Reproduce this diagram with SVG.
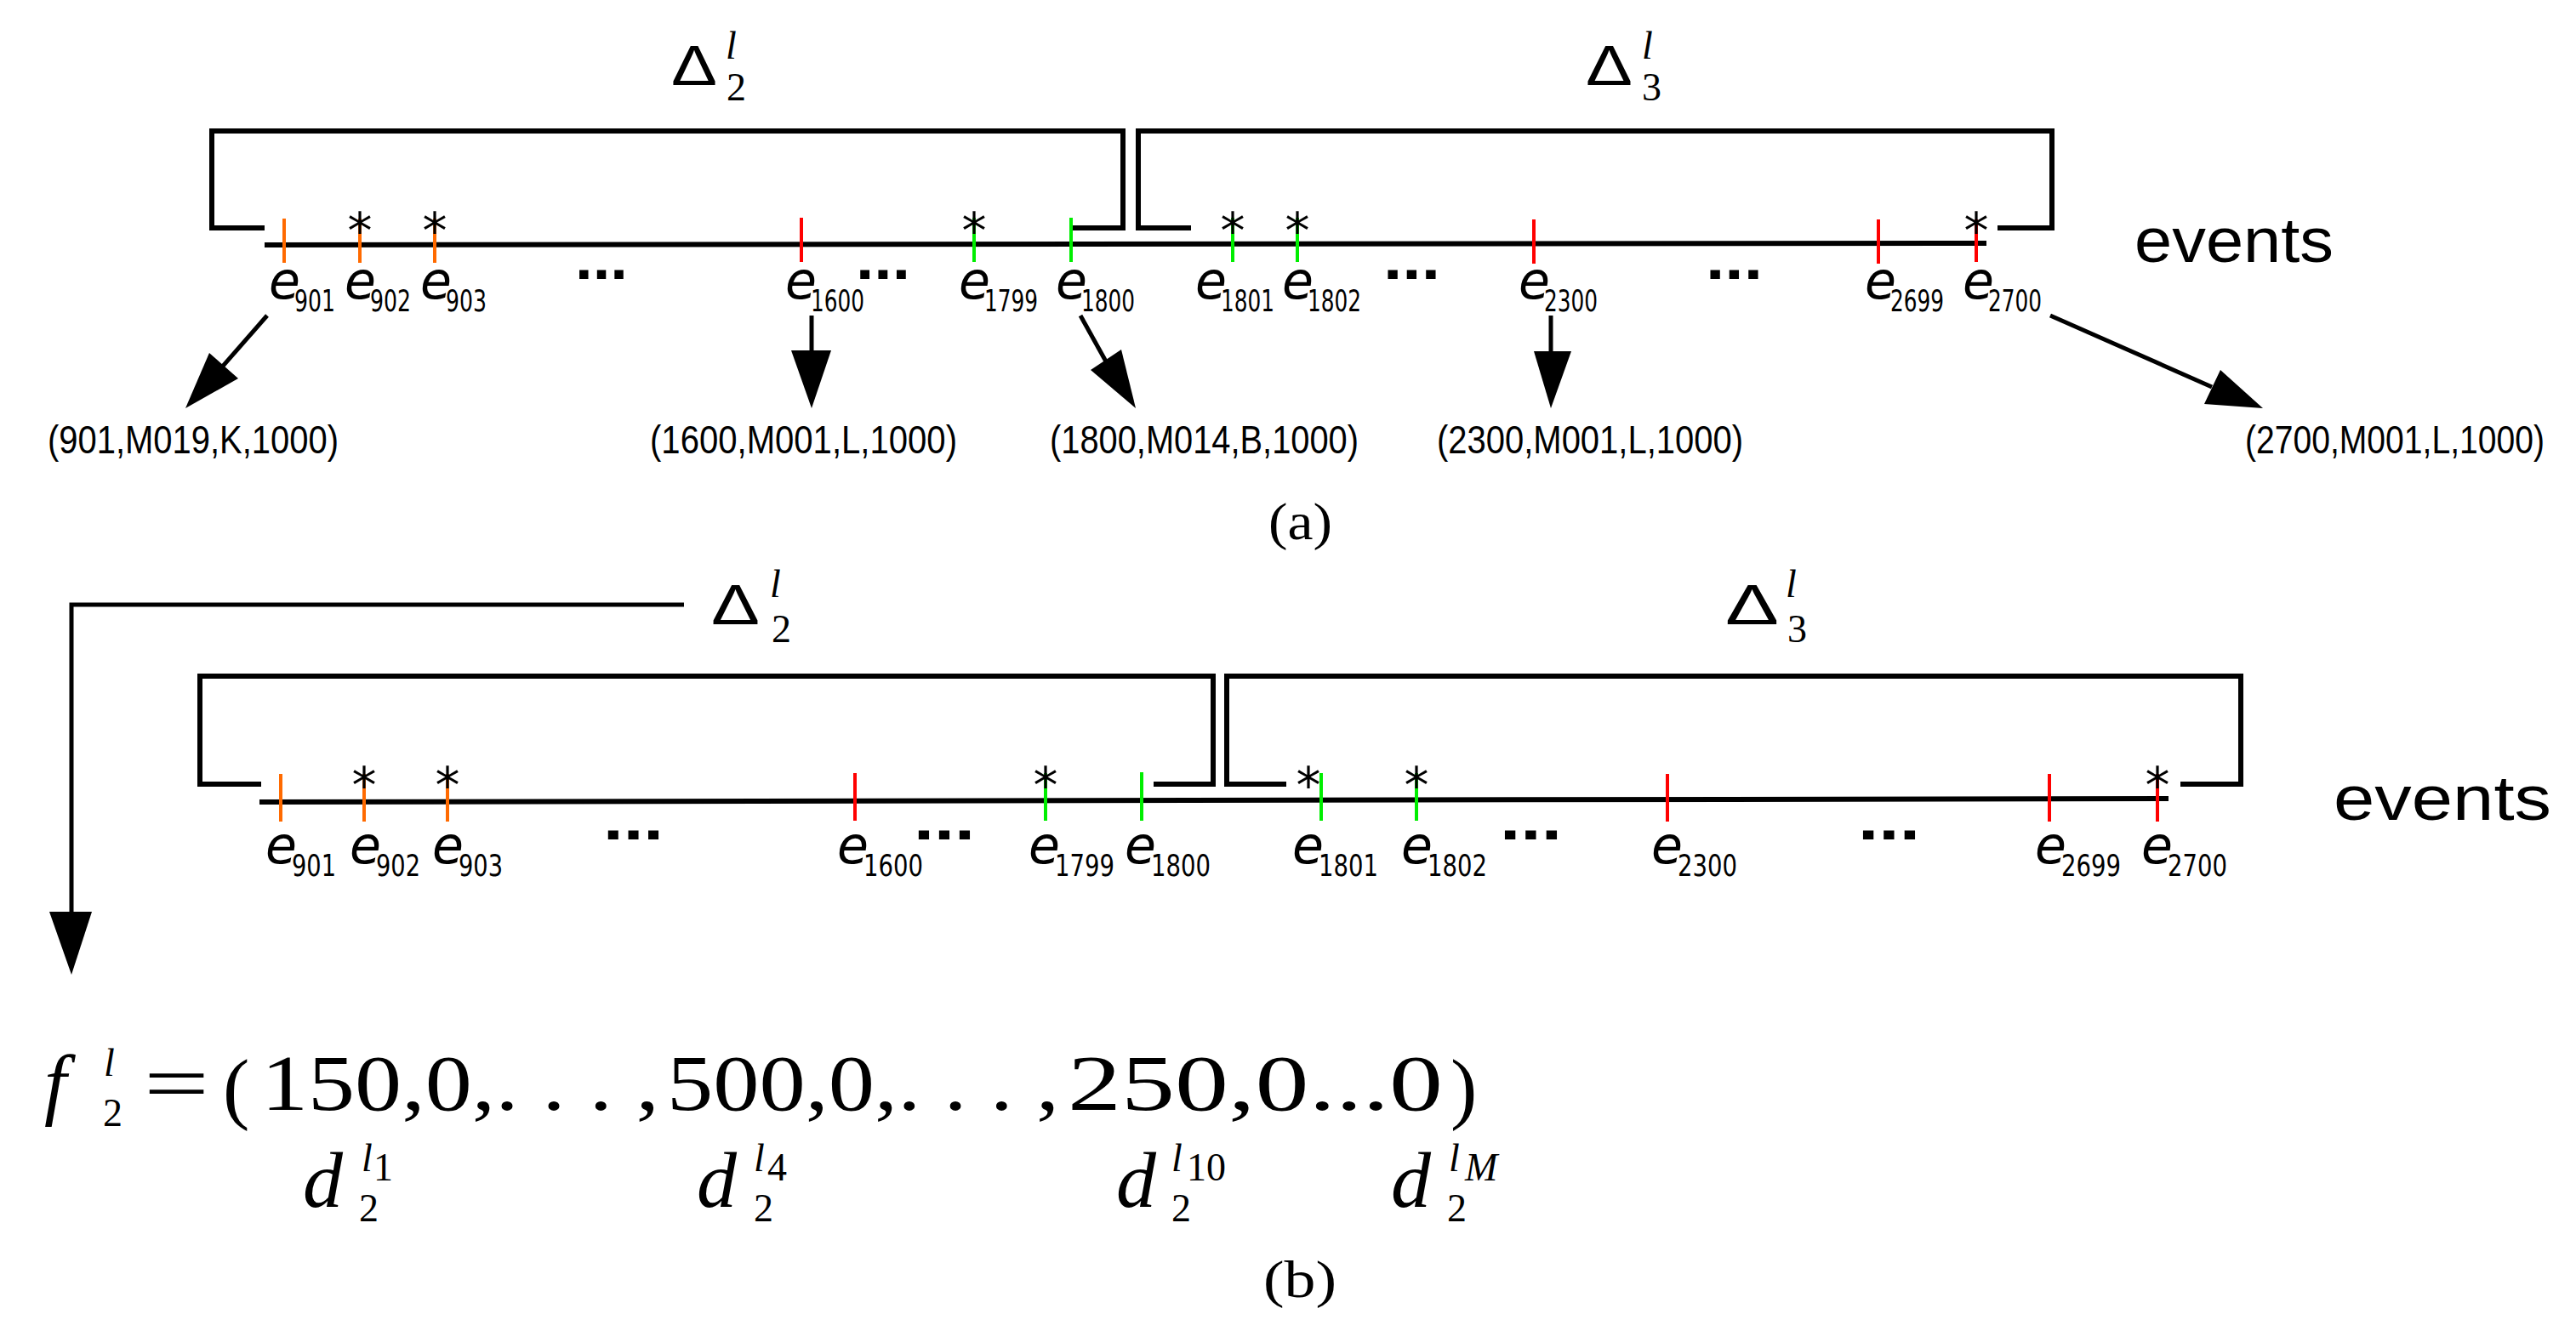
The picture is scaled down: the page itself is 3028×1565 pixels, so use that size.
<svg xmlns="http://www.w3.org/2000/svg" width="3028" height="1565" viewBox="0 0 3028 1565">
<style>
.br{fill:none;stroke:#000;stroke-width:6}
.ln{stroke:#000;stroke-width:6}
.o{stroke:#ff6a00;stroke-width:4}
.r{stroke:#ff0000;stroke-width:4}
.g{stroke:#00ee00;stroke-width:4}
.ar{stroke:#000;stroke-width:5;fill:none}
.st{font-family:"DejaVu Sans",sans-serif;font-size:58px;text-anchor:middle}
.e{font-family:"DejaVu Sans",sans-serif;font-style:italic;font-size:60px}
.s{font-family:"DejaVu Sans",sans-serif;font-size:36px}
.el{font-family:"Liberation Sans",sans-serif;font-weight:bold;font-size:70px}
.tu{font-family:"Liberation Sans",sans-serif;font-size:46px}
.ev{font-family:"Liberation Sans",sans-serif;font-size:74px}
.dl{font-family:"Liberation Sans",sans-serif;font-size:66px}
.sm{font-family:"Liberation Serif",serif;font-size:46px}
.si{font-family:"Liberation Serif",serif;font-style:italic;font-size:46px}
.fm{font-family:"Liberation Serif",serif;font-size:94px}
.fi{font-family:"Liberation Serif",serif;font-style:italic}
.cap{font-family:"Liberation Serif",serif;font-size:62px}
</style>
<!-- Panel a -->
<g id="a-brackets">
<polyline class="br" points="311,268 249,268 249,154 1320,154 1320,268 1260,268"/>
<polyline class="br" points="1400,268 1338,268 1338,154 2412,154 2412,268 2348,268"/>
<line class="ln" x1="311" y1="288" x2="2335" y2="286"/>
</g>
<g id="a-ticks">
<line class="o" x1="334" y1="257" x2="334" y2="309"/>
<line class="o" x1="423" y1="257" x2="423" y2="309"/>
<line class="o" x1="511" y1="257" x2="511" y2="309"/>
<line class="r" x1="942" y1="256" x2="942" y2="308"/>
<line class="g" x1="1145" y1="256" x2="1145" y2="308"/>
<line class="g" x1="1259" y1="256" x2="1259" y2="308"/>
<line class="g" x1="1449" y1="256" x2="1449" y2="308"/>
<line class="g" x1="1525" y1="256" x2="1525" y2="308"/>
<line class="r" x1="1803" y1="258" x2="1803" y2="310"/>
<line class="r" x1="2208" y1="258" x2="2208" y2="310"/>
<line class="r" x1="2323" y1="258" x2="2323" y2="308"/>
<text class="st" x="423" y="292">*</text><text class="st" x="511" y="292">*</text>
<text class="st" x="1145" y="292">*</text><text class="st" x="1449" y="292">*</text>
<text class="st" x="1525" y="292">*</text><text class="st" x="2323" y="292">*</text>
<text class="el" x="676" y="328" textLength="62" lengthAdjust="spacingAndGlyphs">...</text>
<text class="el" x="1006" y="328" textLength="64" lengthAdjust="spacingAndGlyphs">...</text>
<text class="el" x="1626" y="328" textLength="67" lengthAdjust="spacingAndGlyphs">...</text>
<text class="el" x="2005" y="328" textLength="67" lengthAdjust="spacingAndGlyphs">...</text>
</g>
<g id="a-labels">
<text class="e" x="316" y="351">e</text><text class="s" x="346" y="366" textLength="48" lengthAdjust="spacingAndGlyphs">901</text>
<text class="e" x="405" y="351">e</text><text class="s" x="435" y="366" textLength="48" lengthAdjust="spacingAndGlyphs">902</text>
<text class="e" x="494" y="351">e</text><text class="s" x="524" y="366" textLength="48" lengthAdjust="spacingAndGlyphs">903</text>
<text class="e" x="923" y="351">e</text><text class="s" x="953" y="366" textLength="63" lengthAdjust="spacingAndGlyphs">1600</text>
<text class="e" x="1127" y="351">e</text><text class="s" x="1157" y="366" textLength="63" lengthAdjust="spacingAndGlyphs">1799</text>
<text class="e" x="1241" y="351">e</text><text class="s" x="1271" y="366" textLength="63" lengthAdjust="spacingAndGlyphs">1800</text>
<text class="e" x="1405" y="351">e</text><text class="s" x="1435" y="366" textLength="63" lengthAdjust="spacingAndGlyphs">1801</text>
<text class="e" x="1507" y="351">e</text><text class="s" x="1537" y="366" textLength="63" lengthAdjust="spacingAndGlyphs">1802</text>
<text class="e" x="1785" y="351">e</text><text class="s" x="1815" y="366" textLength="63" lengthAdjust="spacingAndGlyphs">2300</text>
<text class="e" x="2192" y="351">e</text><text class="s" x="2222" y="366" textLength="63" lengthAdjust="spacingAndGlyphs">2699</text>
<text class="e" x="2307" y="351">e</text><text class="s" x="2337" y="366" textLength="63" lengthAdjust="spacingAndGlyphs">2700</text>
<text class="ev" x="2509" y="308" textLength="234" lengthAdjust="spacingAndGlyphs">events</text>
<text class="dl" x="789" y="100" textLength="54" lengthAdjust="spacingAndGlyphs">Δ</text>
<text class="si" x="853" y="69">l</text><text class="sm" x="854" y="118">2</text>
<text class="dl" x="1864" y="100" textLength="55" lengthAdjust="spacingAndGlyphs">Δ</text>
<text class="si" x="1930" y="69">l</text><text class="sm" x="1930" y="118">3</text>
</g>
<g id="a-connectors">
<line class="ar" x1="314" y1="371" x2="250" y2="444"/>
<path d="M218,480L246,415L280,445z"/>
<line class="ar" x1="954" y1="371" x2="954" y2="415"/>
<path d="M954,480L930,412L977,412z"/>
<line class="ar" x1="1270" y1="371" x2="1300" y2="425"/>
<path d="M1335,480L1282,435L1318,411z"/>
<line class="ar" x1="1823" y1="371" x2="1823" y2="415"/>
<path d="M1823,480L1803,413L1847,413z"/>
<line class="ar" x1="2410" y1="371" x2="2600" y2="455"/>
<path d="M2660,480L2591,475L2610,435z"/>
</g>
<g id="a-tuples">
<text class="tu" x="56" y="533" textLength="342" lengthAdjust="spacingAndGlyphs">(901,M019,K,1000)</text>
<text class="tu" x="764" y="533" textLength="361" lengthAdjust="spacingAndGlyphs">(1600,M001,L,1000)</text>
<text class="tu" x="1234" y="533" textLength="363" lengthAdjust="spacingAndGlyphs">(1800,M014,B,1000)</text>
<text class="tu" x="1689" y="533" textLength="360" lengthAdjust="spacingAndGlyphs">(2300,M001,L,1000)</text>
<text class="tu" x="2639" y="533" textLength="352" lengthAdjust="spacingAndGlyphs">(2700,M001,L,1000)</text>
</g>
<text class="cap" x="1491" y="634" textLength="75" lengthAdjust="spacingAndGlyphs">(a)</text>
<!-- Panel b -->
<g id="b-brackets">
<polyline class="br" points="307,922 235,922 235,795 1426,795 1426,922 1356,922"/>
<polyline class="br" points="1512,922 1442,922 1442,795 2634,795 2634,922 2563,922"/>
<line class="ln" x1="305" y1="943" x2="2549" y2="939"/>
</g>
<g id="b-ticks">
<line class="o" x1="330" y1="910" x2="330" y2="966"/>
<line class="o" x1="428" y1="910" x2="428" y2="966"/>
<line class="o" x1="526" y1="910" x2="526" y2="966"/>
<line class="r" x1="1005" y1="909" x2="1005" y2="965"/>
<line class="g" x1="1229" y1="909" x2="1229" y2="965"/>
<line class="g" x1="1342" y1="908" x2="1342" y2="965"/>
<line class="g" x1="1553" y1="909" x2="1553" y2="965"/>
<line class="g" x1="1665" y1="909" x2="1665" y2="965"/>
<line class="r" x1="1960" y1="910" x2="1960" y2="966"/>
<line class="r" x1="2409" y1="910" x2="2409" y2="966"/>
<line class="r" x1="2536" y1="910" x2="2536" y2="966"/>
<text class="st" x="428" y="944">*</text><text class="st" x="526" y="944">*</text>
<text class="st" x="1229" y="944">*</text><text class="st" x="1538" y="944">*</text>
<text class="st" x="1665" y="944">*</text><text class="st" x="2536" y="944">*</text>
<text class="el" x="709" y="987" textLength="71" lengthAdjust="spacingAndGlyphs">...</text>
<text class="el" x="1074" y="987" textLength="72" lengthAdjust="spacingAndGlyphs">...</text>
<text class="el" x="1763" y="987" textLength="73" lengthAdjust="spacingAndGlyphs">...</text>
<text class="el" x="2184" y="987" textLength="73" lengthAdjust="spacingAndGlyphs">...</text>
</g>
<g id="b-labels">
<text class="e" x="312" y="1015">e</text><text class="s" x="343" y="1030" textLength="52" lengthAdjust="spacingAndGlyphs">901</text>
<text class="e" x="411" y="1015">e</text><text class="s" x="442" y="1030" textLength="52" lengthAdjust="spacingAndGlyphs">902</text>
<text class="e" x="508" y="1015">e</text><text class="s" x="539" y="1030" textLength="52" lengthAdjust="spacingAndGlyphs">903</text>
<text class="e" x="984" y="1015">e</text><text class="s" x="1015" y="1030" textLength="70" lengthAdjust="spacingAndGlyphs">1600</text>
<text class="e" x="1209" y="1015">e</text><text class="s" x="1240" y="1030" textLength="70" lengthAdjust="spacingAndGlyphs">1799</text>
<text class="e" x="1322" y="1015">e</text><text class="s" x="1353" y="1030" textLength="70" lengthAdjust="spacingAndGlyphs">1800</text>
<text class="e" x="1519" y="1015">e</text><text class="s" x="1550" y="1030" textLength="70" lengthAdjust="spacingAndGlyphs">1801</text>
<text class="e" x="1647" y="1015">e</text><text class="s" x="1678" y="1030" textLength="70" lengthAdjust="spacingAndGlyphs">1802</text>
<text class="e" x="1941" y="1015">e</text><text class="s" x="1972" y="1030" textLength="70" lengthAdjust="spacingAndGlyphs">2300</text>
<text class="e" x="2392" y="1015">e</text><text class="s" x="2423" y="1030" textLength="70" lengthAdjust="spacingAndGlyphs">2699</text>
<text class="e" x="2517" y="1015">e</text><text class="s" x="2548" y="1030" textLength="70" lengthAdjust="spacingAndGlyphs">2700</text>
<text class="ev" x="2743" y="964" textLength="256" lengthAdjust="spacingAndGlyphs">events</text>
<text class="dl" x="836" y="734" textLength="57" lengthAdjust="spacingAndGlyphs">Δ</text>
<text class="si" x="905" y="702">l</text><text class="sm" x="907" y="755">2</text>
<text class="dl" x="2028" y="734" textLength="63" lengthAdjust="spacingAndGlyphs">Δ</text>
<text class="si" x="2099" y="702">l</text><text class="sm" x="2101" y="755">3</text>
</g>
<g id="b-connectors">
<polyline class="ar" points="804,711 84,711 84,1075"/>
<path d="M84,1146L58,1072L108,1072z"/>
</g>
<g id="formula">
<text class="fm fi" x="52" y="1305" font-size="110">f</text>
<text class="si" x="122" y="1265">l</text><text class="sm" x="121" y="1324">2</text>
<text class="fm" x="169" y="1305" textLength="77" lengthAdjust="spacingAndGlyphs">=</text>
<text class="fm" x="262" y="1310" font-size="110">(</text>
<text class="fm" x="307" y="1305" textLength="468" lengthAdjust="spacingAndGlyphs">150,0,. . . ,</text>
<text class="fm" x="784" y="1305" textLength="461" lengthAdjust="spacingAndGlyphs">500,0,. . . ,</text>
<text class="fm" x="1255" y="1305" textLength="441" lengthAdjust="spacingAndGlyphs">250,0...0</text>
<text class="fm" x="1705" y="1310" font-size="110">)</text>
<g id="d1"><text class="fm fi" x="356" y="1419" font-size="100">d</text><text class="sm" x="422" y="1436">2</text><text class="si" x="425" y="1377">l</text><text class="sm" x="439" y="1388" font-size="26">1</text></g>
<g id="d4"><text class="fm fi" x="819" y="1419" font-size="100">d</text><text class="sm" x="886" y="1436">2</text><text class="si" x="886" y="1377">l</text><text class="sm" x="902" y="1388" font-size="26">4</text></g>
<g id="d10"><text class="fm fi" x="1312" y="1419" font-size="100">d</text><text class="sm" x="1377" y="1436">2</text><text class="si" x="1377" y="1377">l</text><text class="sm" x="1395" y="1388" font-size="26">10</text></g>
<g id="dM"><text class="fm fi" x="1635" y="1419" font-size="100">d</text><text class="sm" x="1701" y="1436">2</text><text class="si" x="1703" y="1377">l</text><text class="si" x="1722" y="1388" font-size="26">M</text></g>
</g>
<text class="cap" x="1485" y="1525" textLength="86" lengthAdjust="spacingAndGlyphs">(b)</text>
</svg>
